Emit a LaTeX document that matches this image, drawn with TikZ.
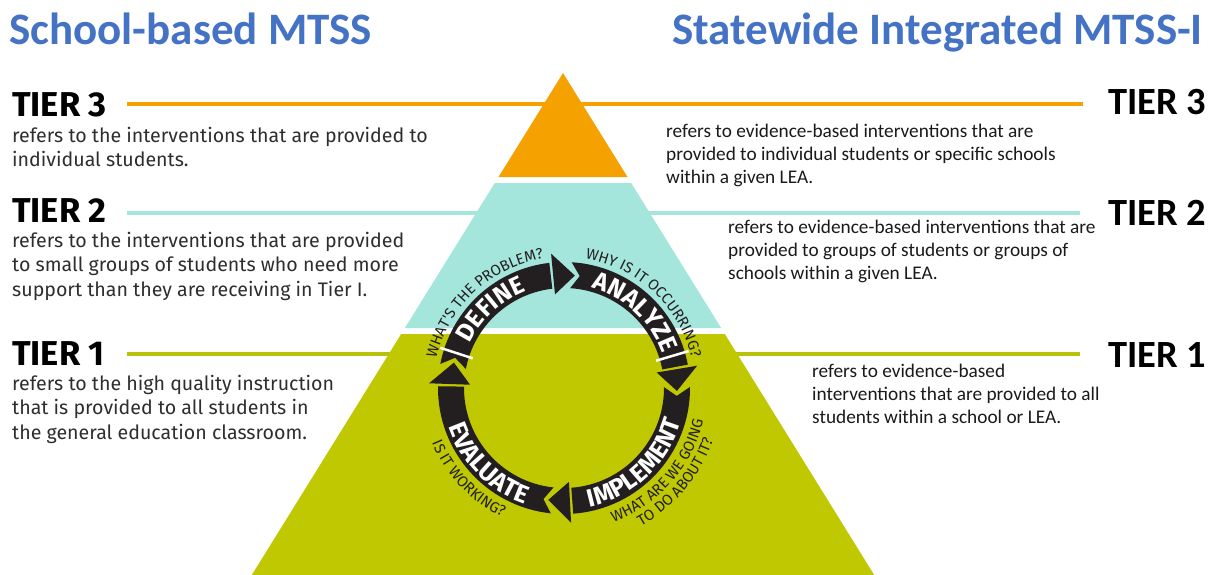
\documentclass[tikz,border=0pt]{standalone}
\usepackage{fontspec}
\setmainfont{Carlito}
\newfontfamily\fira{Fira Sans}
\usetikzlibrary{decorations.text}
\definecolor{tOrange}{HTML}{F5A200}
\definecolor{tTeal}{HTML}{A4E5DC}
\definecolor{tGreen}{HTML}{BFC801}
\definecolor{tGreenLine}{HTML}{B9C20A}
\definecolor{tBlue}{HTML}{4472C4}
\definecolor{tGray}{HTML}{2E2E2E}
\definecolor{tDark}{HTML}{1A1A1A}
\definecolor{ringc}{HTML}{231F20}
\newcommand\ringfont{\fira\bfseries\fontsize{25}{25}\selectfont\color{white}}
\newcommand\qfont{\fira\fontsize{15}{15}\selectfont\color{ringc}}
\begin{document}
\begin{tikzpicture}[x=1pt,y=1pt,
  tierline/.style={line width=4pt},
  lefttier/.style={font=\fira\bfseries\fontsize{34.5}{34.5}\selectfont, inner sep=0pt, text=black},
  leftbody/.style={font=\fira\fontsize{19.6}{24.5}\selectfont, inner sep=0pt, align=left, text=tGray},
  righttier/.style={font=\bfseries\fontsize{38.5}{38.5}\selectfont, inner sep=0pt, text=black},
  rightbody/.style={font=\fontsize{19.3}{23}\selectfont, inner sep=0pt, align=left, text=tDark},
  titletext/.style={font=\bfseries\fontsize{45}{45}\selectfont, text=tBlue, inner sep=0pt},
  cut/.style={white, line width=2.5pt}]
\useasboundingbox (0,0) rectangle (1209,-575);
\fill[white] (0,0) rectangle (1209,-575);

% tier lines
\coordinate (l3a) at (127,-104); \coordinate (l3b) at (1083,-104);
\coordinate (l2a) at (127,-213); \coordinate (l2b) at (1080,-213);
\coordinate (l1a) at (127,-354); \coordinate (l1b) at (1080,-354);
\draw[tierline, tOrange] (l3a) -- (l3b);
\draw[tierline, tTeal] (l2a) -- (l2b);
\draw[tierline, tGreenLine] (l1a) -- (l1b);

% pyramid
\fill[tOrange] (563,-73) -- (627.5,-177) -- (498.5,-177) -- cycle;
\fill[tTeal] (494.8,-183) -- (631.2,-183) -- (721.1,-328) -- (404.9,-328) -- cycle;
\fill[tGreen] (401.2,-334) -- (724.8,-334) -- (874.2,-575) -- (251.8,-575) -- cycle;

% cycle ring
\begin{scope}[shift={(564,-388)}]
  % DEFINE
  \fill[ringc] (169:126) arc[start angle=169,end angle=96.7,radius=126] -- (96.7:100)
     arc[start angle=96.7,end angle=169,radius=100] -- (164.5:113) -- cycle;
  \fill[ringc] (95.5:135) -- (84.5:113) -- (95.5:94) -- cycle;
  % ANALYZE
  \fill[ringc] (86.5:126) arc[start angle=86.5,end angle=10.7,radius=126] -- (10.7:100)
     arc[start angle=10.7,end angle=86.5,radius=100] -- (82:113) -- cycle;
  \fill[ringc] (9.5:135) -- (-1.5:113) -- (9.5:94) -- cycle;
  % IMPLEMENT
  \fill[ringc] (0.5:126) arc[start angle=0.5,end angle=-85.8,radius=126] -- (-85.8:100)
     arc[start angle=-85.8,end angle=0.5,radius=100] -- (-4:113) -- cycle;
  \fill[ringc] (-87:135) -- (-98:113) -- (-87:94) -- cycle;
  % EVALUATE
  \fill[ringc] (264:126) arc[start angle=264,end angle=179.2,radius=126] -- (179.2:100)
     arc[start angle=179.2,end angle=264,radius=100] -- (259.5:113) -- cycle;
  \fill[ringc] (178:135) -- (167:113) -- (178:94) -- cycle;
  % white cuts
  \draw[cut] (16.5:96) -- (16.5:130);
  \draw[cut] (162:96) -- (162:130);

  % ring words
  \path[decorate, decoration={text along path, text align=center, text={|\ringfont|DEFINE}}]
     (168:104) arc[start angle=168, end angle=98, radius=104];
  \path[decorate, decoration={text along path, text align=center, text={|\ringfont|ANALYZE}}]
     (82:104) arc[start angle=82, end angle=12, radius=104];
  \path[decorate, decoration={text along path, text align=center, text={|\ringfont|IMPLEMENT}}]
     (-92:122) arc[start angle=-92, end angle=-2, radius=122];
  \path[decorate, decoration={text along path, text align=center, text={|\ringfont|EVALUATE}}]
     (180:122) arc[start angle=180, end angle=270, radius=122];

  % questions
  \path[decorate, decoration={text along path, text align=center, text={|\qfont|WHAT'S THE PROBLEM?}}]
     (178:131) arc[start angle=178, end angle=88, radius=131];
  \path[decorate, decoration={text along path, text align=center, text={|\qfont|WHY IS IT OCCURRING?}}]
     (92:131) arc[start angle=92, end angle=2, radius=131];
  \path[decorate, decoration={text along path, text align=center, text={|\qfont|IS IT WORKING?}}]
     (185:143) arc[start angle=185, end angle=262, radius=143];
  \path[decorate, decoration={text along path, text align=center, text={|\qfont|WHAT ARE WE GOING}}]
     (-85:143) arc[start angle=-85, end angle=2, radius=143];
  \path[decorate, decoration={text along path, text align=center, text={|\qfont|TO DO ABOUT IT?}}]
     (-78:158) arc[start angle=-78, end angle=-2, radius=158];
\end{scope}

% titles
\node[titletext, anchor=base west] (titleL) at (9,-45) {School-based MTSS};
\node[titletext, anchor=base east] (titleR) at (1203,-45) {Statewide Integrated MTSS-I};

% left side (base anchor = baseline of last line)
\node[lefttier, anchor=base west] (t3L) at (12,-117) {TIER 3};
\node[leftbody, anchor=base west] (b3L) at (12,-166.5) {refers to the interventions that are provided to\\individual students.};
\node[lefttier, anchor=base west] (t2L) at (12,-222) {TIER 2};
\node[leftbody, anchor=base west] (b2L) at (12,-296) {refers to the interventions that are provided\\to small groups of students who need more\\support than they are receiving in Tier I.};
\node[lefttier, anchor=base west] (t1L) at (12,-365) {TIER 1};
\node[leftbody, anchor=base west] (b1L) at (12,-439) {refers to the high quality instruction\\that is provided to all students in\\the general education classroom.};

% right side
\node[righttier, anchor=base west] (t3R) at (1108,-115) {TIER 3};
\node[rightbody, anchor=base west] (b3R) at (666,-183) {refers to evidence-based interventions that are\\provided to individual students or specific schools\\within a given LEA.};
\node[righttier, anchor=base west] (t2R) at (1108,-225) {TIER 2};
\node[rightbody, anchor=base west] (b2R) at (728,-279) {refers to evidence-based interventions that are\\provided to groups of students or groups of\\schools within a given LEA.};
\node[righttier, anchor=base west] (t1R) at (1108,-367) {TIER 1};
\node[rightbody, anchor=base west] (b1R) at (812,-423) {refers to evidence-based\\interventions that are provided to all\\students within a school or LEA.};
\end{tikzpicture}
\end{document}
